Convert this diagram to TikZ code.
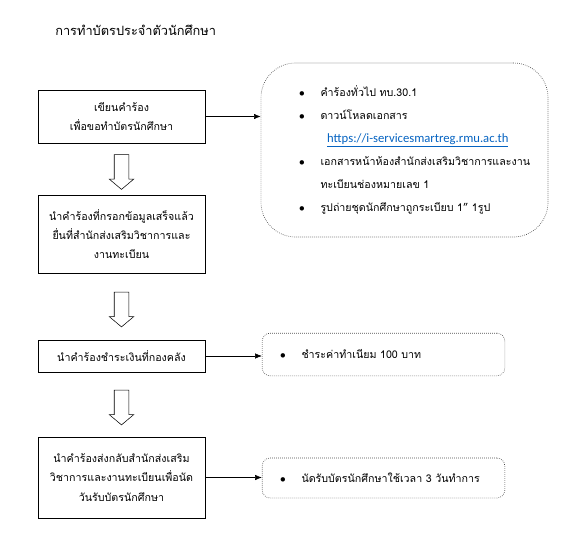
\documentclass[tikz,border=0pt]{standalone}
\usepackage{fontspec}
\setmainfont[Script=Thai]{Loma}
\newfontfamily\linkfont{Carlito}
\usetikzlibrary{shapes.arrows,arrows.meta,positioning,calc}
\definecolor{linkblue}{RGB}{5,99,193}
\definecolor{dotgray}{RGB}{70,70,70}
\newcommand{\bul}{\makebox[16pt][l]{$\bullet$}}
\tikzset{
  stepbox/.style={draw,fill=white,minimum width=125pt,minimum height=#1,align=center,inner sep=2pt,font=\fontsize{8}{14.5}\selectfont},
  notebox/.style={draw=dotgray,densely dotted,line width=0.5pt,rounded corners=#1,align=left,inner sep=0pt,font=\fontsize{8}{17.25}\selectfont},
  flowdown/.style={single arrow,draw,rotate=-90,minimum height=26pt,inner xsep=0pt,inner ysep=5.25pt,single arrow head extend=3.75pt,single arrow tip angle=100},
}

\begin{document}
\begin{tikzpicture}[
    x=0.75pt,y=-0.75pt,
    arrow/.style={-{Latex[length=5pt,width=4pt]},thin},
  ]
    \useasboundingbox (0,0) rectangle (588,556);
    % Title
    \node[anchor=west,inner sep=0pt,font=\fontsize{9.6}{11}\selectfont] (title) at (55,30) {การทำบัตรประจำตัวนักศึกษา};
    % Steps
    \node[stepbox=39.75pt] (req) at (121.5,116.5) {เขียนคำร้อง\\เพื่อขอทำบัตรนักศึกษา};
    \node[stepbox=58.5pt] (submit) at (121.5,234) {นำคำร้องที่กรอกข้อมูลเสร็จแล้ว\\ยื่นที่สำนักส่งเสริมวิชาการและ\\งานทะเบียน};
    \node[stepbox=24pt] (pay) at (121.5,356) {นำคำร้องชำระเงินที่กองคลัง};
    \node[stepbox=60.75pt] (back) at (121.5,477.5) {นำคำร้องส่งกลับสำนักส่งเสริม\\วิชาการและงานทะเบียนเพื่อนัด\\วันรับบัตรนักศึกษา};
    % Down arrows
    \node[flowdown] (down1) at ($(req.south)!0.5!(submit.north)$) {};
    \node[flowdown] (down2) at ($(submit.south)!0.5!(pay.north)$) {};
    \node[flowdown] (down3) at ($(pay.south)!0.5!(back.north)$) {};
    % Notes
    \node[notebox=26pt,minimum width=215.25pt,minimum height=130.5pt,text width=158pt] (docs) at (404.5,150) {%
      \bul คำร้องทั่วไป ทบ.30.1\\
      \bul ดาวน์โหลดเอกสาร\\
      \hspace*{21pt}{\linkfont\fontsize{9.5}{10}\selectfont\color{linkblue}\underline{https://i-servicesmartreg.rmu.ac.th}}\\
      \bul เอกสารหน้าห้องสำนักส่งเสริมวิชาการและงาน\\
      \hspace*{16pt}ทะเบียนช่องหมายเลข 1\\
      \bul รูปถ่ายชุดนักศึกษาถูกระเบียบ 1” 1รูป};
    \node[notebox=6pt,minimum width=182pt,minimum height=32pt,text width=155pt] (fee) at (383.5,354.5) {\bul ชำระค่าทำเนียม 100 บาท};
    \node[notebox=6pt,minimum width=182pt,minimum height=30pt,text width=155pt] (pickup) at (383.5,478) {\bul นัดรับบัตรนักศึกษาใช้เวลา 3 วันทำการ};
    % Arrows
    \draw[arrow] (req.east) -- (req.east -| docs.west);
    \draw[arrow] (pay.east) -- (pay.east -| fee.west);
    \draw[arrow] (back.east) -- (back.east -| pickup.west);
  \end{tikzpicture}
\end{document}
